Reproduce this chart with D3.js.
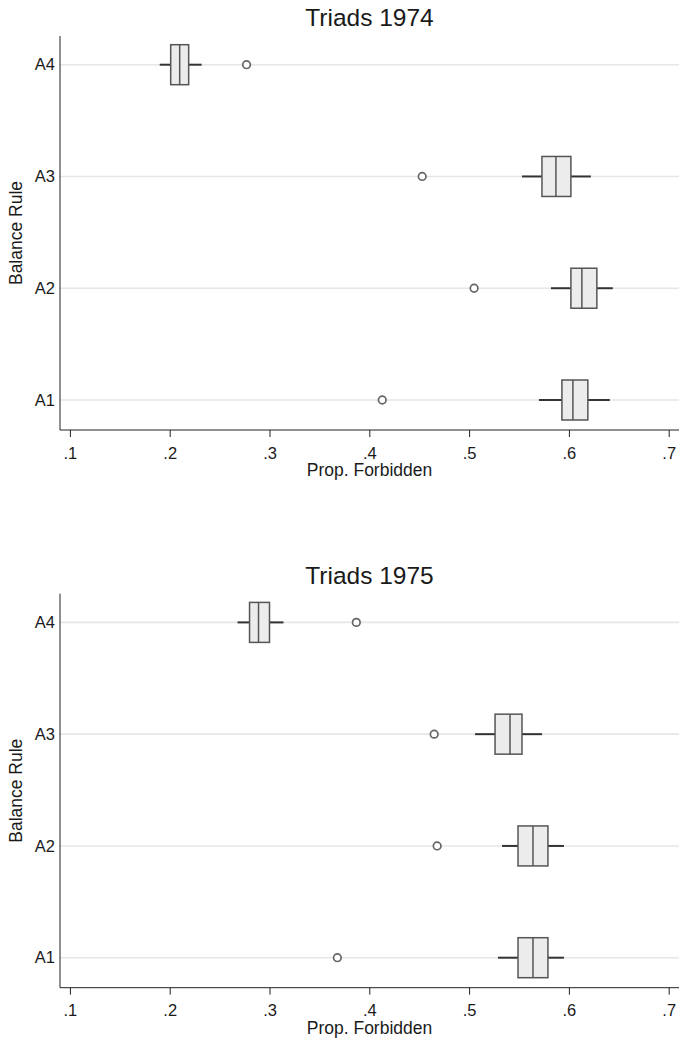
<!DOCTYPE html>
<html lang="en">
<head>
  <meta charset="UTF-8">
  <title>Triads box plots</title>
  <script src="https://cdn.jsdelivr.net/npm/d3@7"></script>
  <style>
    body { margin: 0; background: #fff; }
    svg { display: block; font-family: "Liberation Sans", Arial, sans-serif; }
  </style>
</head>
<body>
  <div id="chart"></div>
  <script>
    // order: A1, A2, A3, A4
    const rules = ['A1', 'A2', 'A3', 'A4']
    const xTicks = [0.1, 0.2, 0.3, 0.4, 0.5, 0.6, 0.7]

    const lo1974 = [0.570, 0.582, 0.553, 0.190]
    const q1_1974 = [0.593, 0.602, 0.573, 0.201]
    const med1974 = [0.604, 0.613, 0.587, 0.210]
    const q3_1974 = [0.619, 0.628, 0.602, 0.219]
    const hi1974 = [0.641, 0.644, 0.622, 0.232]
    const out1974 = [0.413, 0.505, 0.453, 0.277]

    const lo1975 = [0.529, 0.533, 0.506, 0.268]
    const q1_1975 = [0.549, 0.549, 0.526, 0.280]
    const med1975 = [0.564, 0.564, 0.541, 0.289]
    const q3_1975 = [0.579, 0.579, 0.553, 0.300]
    const hi1975 = [0.595, 0.595, 0.573, 0.314]
    const out1975 = [0.368, 0.468, 0.465, 0.387]

    const width = 679
    const height = 1039
    const plotLeft = 60
    const plotRight = 679
    const plotTop = 36
    const plotBottom = 430
    const panelShift = 557.7

    const svg = d3.select('#chart').append('svg')
      .attr('width', width)
      .attr('height', height)

    const x = d3.scaleLinear().domain([0.1, 0.7]).range([69.9, 668.7])
    const y = d3.scalePoint().domain(['A4', 'A3', 'A2', 'A1']).range([64.7, 400])

    const panels = [
      { title: 'Triads 1974', lo: lo1974, q1: q1_1974, med: med1974, q3: q3_1974, hi: hi1974, out: out1974 },
      { title: 'Triads 1975', lo: lo1975, q1: q1_1975, med: med1975, q3: q3_1975, hi: hi1975, out: out1975 }
    ]

    panels.forEach((p, k) => {
      const g = svg.append('g').attr('transform', `translate(0, ${k * panelShift})`)
      const rows = rules.map((r, i) => ({ rule: r, lo: p.lo[i], q1: p.q1[i], med: p.med[i], q3: p.q3[i], hi: p.hi[i], out: p.out[i] }))

      g.append('text')
        .attr('x', (plotLeft + plotRight) / 2)
        .attr('y', 26)
        .attr('text-anchor', 'middle')
        .style('font-size', '24.5px')
        .attr('fill', '#1a1a1a')
        .text(p.title)

      // grid lines
      g.selectAll('.grid')
        .data(rules)
        .enter()
        .append('line')
        .attr('x1', plotLeft)
        .attr('x2', plotRight)
        .attr('y1', d => y(d))
        .attr('y2', d => y(d))
        .attr('stroke', '#e6e6e6')
        .attr('stroke-width', 1.6)

      // y axis
      const yAxis = g.append('g')
        .attr('transform', `translate(${plotLeft}, 0)`)
        .call(d3.axisLeft(y).tickSize(0).tickPadding(5))
      yAxis.select('.domain').remove()
      yAxis.selectAll('text').style('font-size', '16.5px').attr('fill', '#1a1a1a')

      g.append('line')
        .attr('x1', plotLeft).attr('x2', plotLeft)
        .attr('y1', plotTop).attr('y2', plotBottom)
        .attr('stroke', '#222')

      // x axis
      const xAxis = g.append('g')
        .attr('transform', `translate(0, ${plotBottom})`)
        .call(d3.axisBottom(x)
          .tickValues(xTicks)
          .tickSize(7)
          .tickPadding(10)
          .tickFormat(d => d3.format('.1f')(d).replace(/^0/, '')))
      xAxis.select('.domain').remove()
      xAxis.selectAll('line').attr('stroke', '#222')
      xAxis.selectAll('text').style('font-size', '16.5px').attr('fill', '#1a1a1a')

      g.append('line')
        .attr('x1', plotLeft).attr('x2', plotRight)
        .attr('y1', plotBottom).attr('y2', plotBottom)
        .attr('stroke', '#222')

      g.append('text')
        .attr('x', (plotLeft + plotRight) / 2)
        .attr('y', 476)
        .attr('text-anchor', 'middle')
        .style('font-size', '17.5px')
        .attr('fill', '#1a1a1a')
        .text('Prop. Forbidden')

      g.append('text')
        .attr('transform', `translate(22, ${(plotTop + plotBottom) / 2}) rotate(-90)`)
        .attr('text-anchor', 'middle')
        .style('font-size', '17.5px')
        .attr('fill', '#1a1a1a')
        .text('Balance Rule')

      const boxH = 40

      // whiskers
      g.selectAll('.wlo')
        .data(rows)
        .enter()
        .append('line')
        .attr('x1', d => x(d.lo))
        .attr('x2', d => x(d.q1))
        .attr('y1', d => y(d.rule))
        .attr('y2', d => y(d.rule))
        .attr('stroke', '#333')
        .attr('stroke-width', 2)

      g.selectAll('.whi')
        .data(rows)
        .enter()
        .append('line')
        .attr('x1', d => x(d.q3))
        .attr('x2', d => x(d.hi))
        .attr('y1', d => y(d.rule))
        .attr('y2', d => y(d.rule))
        .attr('stroke', '#333')
        .attr('stroke-width', 2)

      // boxes
      g.selectAll('.box')
        .data(rows)
        .enter()
        .append('rect')
        .attr('x', d => x(d.q1))
        .attr('y', d => y(d.rule) - boxH / 2)
        .attr('width', d => x(d.q3) - x(d.q1))
        .attr('height', boxH)
        .attr('fill', '#ececec')
        .attr('stroke', '#555')
        .attr('stroke-width', 1.5)

      g.selectAll('.med')
        .data(rows)
        .enter()
        .append('line')
        .attr('x1', d => x(d.med))
        .attr('x2', d => x(d.med))
        .attr('y1', d => y(d.rule) - boxH / 2)
        .attr('y2', d => y(d.rule) + boxH / 2)
        .attr('stroke', '#555')
        .attr('stroke-width', 1.5)

      // outliers
      g.selectAll('.out')
        .data(rows)
        .enter()
        .append('circle')
        .attr('cx', d => x(d.out))
        .attr('cy', d => y(d.rule))
        .attr('r', 3.8)
        .attr('fill', '#fff')
        .attr('stroke', '#666')
        .attr('stroke-width', 1.7)
    })
  </script>
</body>
</html>
